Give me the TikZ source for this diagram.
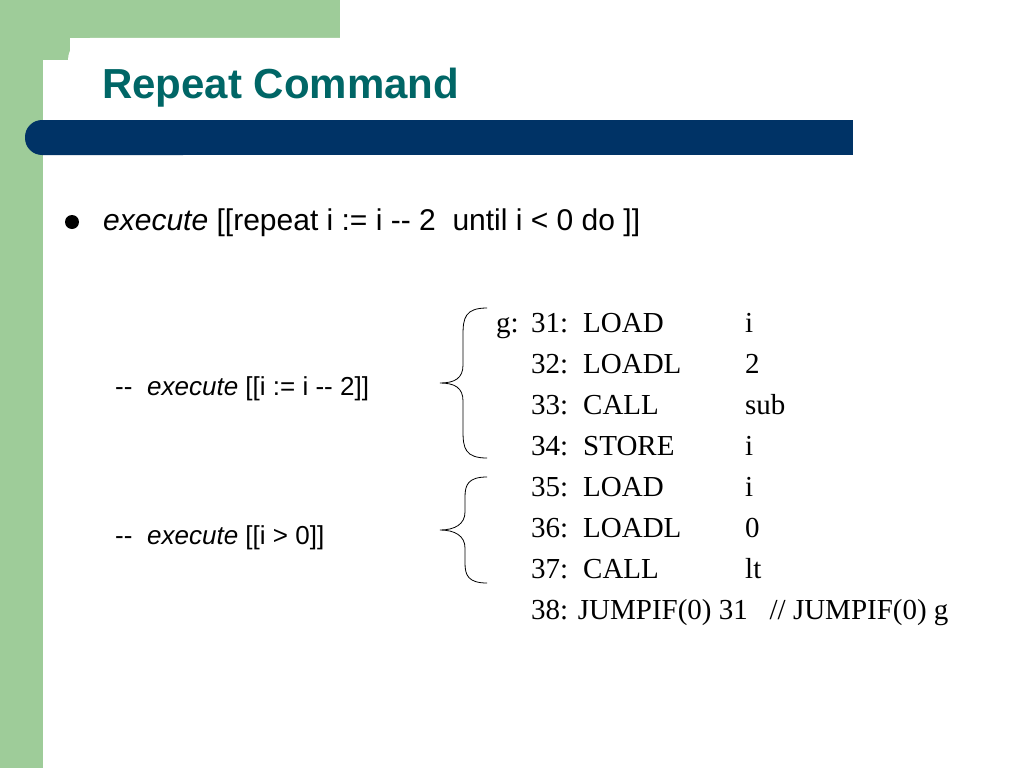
\documentclass[tikz,border=0pt]{standalone}
\usepackage{fontspec}
\setmainfont{Liberation Serif}
\newfontfamily\arial{Liberation Sans}
\begin{document}
\begin{tikzpicture}[x=1pt,y=-1pt,
  code/.style={anchor=base west,inner sep=0,font=\fontsize{29}{30}\selectfont},
  sans/.style={anchor=base west,inner sep=0,font=\arial\fontsize{30}{32}\selectfont},
  sub/.style={anchor=base west,inner sep=0,font=\arial\fontsize{26}{28}\selectfont},
  brace/.style={draw=black,line width=0.8pt}]
\definecolor{lg}{RGB}{158,204,153}
\definecolor{navy}{RGB}{0,51,102}
\definecolor{teal}{RGB}{0,102,102}
\useasboundingbox (0,0) rectangle (1024,768);
\fill[white] (0,0) rectangle (1024,768);
\fill[lg] (0,0) rectangle (340,38);
\fill[lg] (0,0) rectangle (43,768);
\fill[lg] (43,38) rectangle (70,60);
\fill[white,rounded corners=22pt] (68,38) rectangle (1060,200);
\fill[white] (43,60) rectangle (1024,768);
\fill[navy,rounded corners=17pt] (25,120) rectangle (200,155);
\fill[navy] (100,120) rectangle (853,155);
\node[anchor=base west,inner sep=0,text=teal,font=\arial\bfseries\fontsize{42}{44}\selectfont] (title) at (102,98) {Repeat Command};
\fill (72,222) circle (7) coordinate (b1);
\node[sans] (l1) at (103,230) {\itshape execute\upshape{} [[repeat i := i -- 2\ \ until i < 0 do ]]};
\node[sub] (d1) at (115,395) {--};
\node[sub] (s1) at (147,395) {\itshape execute\upshape{} [[i := i -- 2]]};
\node[sub] (d2) at (115,544) {--};
\node[sub] (s2) at (147,544) {\itshape execute\upshape{} [[i > 0]]};
\draw[brace] (487,308) .. controls (465,308) and (463,318) .. (463,335) -- (463,365) .. controls (463,378) and (455,383) .. (440,383) .. controls (455,383) and (463,388) .. (463,401) -- (463,431) .. controls (463,448) and (465,458) .. (487,458);
\draw[brace] (487,477) .. controls (468,477) and (465,485) .. (465,497) -- (465,512) .. controls (465,524) and (455,530) .. (440,530) .. controls (455,530) and (465,536) .. (465,548) -- (465,563) .. controls (465,575) and (468,583) .. (487,583);
\node[code] (g) at (496,332) {g:};
\foreach \n/\op/\arg [count=\k from 0] in {31/LOAD/i,32/LOADL/2,33/CALL/sub,34/STORE/i,35/LOAD/i,36/LOADL/0,37/CALL/lt}{
  \node[code] (n\n) at (531,332+41*\k) {\n:};
  \node[code] (o\n) at (583,332+41*\k) {\op};
  \node[code] (a\n) at (745,332+41*\k) {\arg};
}
\node[code] (n38) at (531,619) {38: JUMPIF(0) 31\ \ \ // JUMPIF(0) g};
\end{tikzpicture}
\end{document}
